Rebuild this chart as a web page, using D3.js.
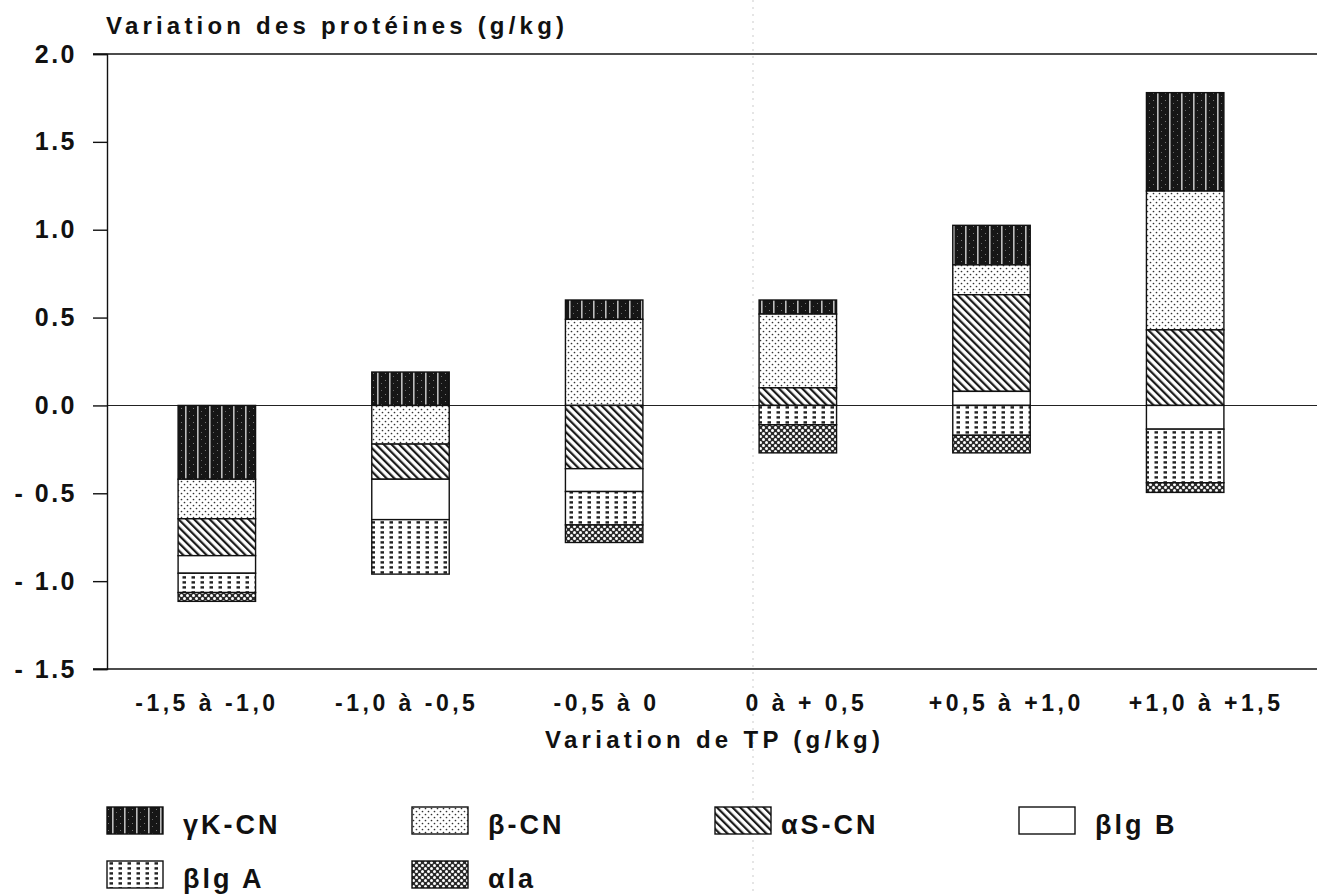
<!DOCTYPE html>
<html>
<head>
<meta charset="utf-8">
<script src="https://cdn.jsdelivr.net/npm/d3@7"></script>
<style>
  html, body { margin: 0; padding: 0; background: #fff; }
  svg { display: block; }
  text { font-family: "Liberation Sans", Arial, sans-serif; fill: #111; }
</style>
</head>
<body>
<svg id="chart" width="1317" height="896"></svg>
<script>
// ---- data ----
const categories = ["-1,5 à -1,0", "-1,0 à -0,5", "-0,5 à 0", "0 à + 0,5", "+0,5 à +1,0", "+1,0 à +1,5"];
const seriesNames = ["γK-CN", "β-CN", "αS-CN", "βlg B", "βlg A", "αla"];
const gammaK  = [-0.42,  0.19,  0.11,  0.08, 0.225,  0.56];
const betaCN  = [-0.225, -0.22,  0.49,  0.42, 0.17,   0.79];
const alphaS  = [-0.21, -0.20, -0.36,  0.10, 0.55,   0.43];
const blgB    = [-0.10, -0.23, -0.13,  0.00, 0.08,  -0.135];
const blgA    = [-0.11, -0.31, -0.19, -0.11, -0.17, -0.305];
const alphaLa = [-0.05,  0.00, -0.10, -0.16, -0.10, -0.055];
const seriesValues = [gammaK, betaCN, alphaS, blgB, blgA, alphaLa];
const yTicks = [2.0, 1.5, 1.0, 0.5, 0.0, -0.5, -1.0, -1.5];
const yTitle = "Variation des protéines (g/kg)";
const xTitle = "Variation de TP (g/kg)";

// ---- setup ----
const svg = d3.select("#chart");
const defs = svg.append("defs");

// patterns
function pat(id, w, h, build, transform) {
  const p = defs.append("pattern").attr("id", id).attr("patternUnits", "userSpaceOnUse")
    .attr("width", w).attr("height", h);
  if (transform) p.attr("patternTransform", transform);
  build(p);
}
pat("pGamma", 12, 7, p => {
  p.append("rect").attr("width", 12).attr("height", 7).attr("fill", "#161616");
  p.append("rect").attr("x", 5).attr("y", 0).attr("width", 1.6).attr("height", 7).attr("fill", "#bdbdbd");
  p.append("rect").attr("x", 1).attr("y", 2).attr("width", 1).attr("height", 1).attr("fill", "#777");
  p.append("rect").attr("x", 9).attr("y", 5).attr("width", 1).attr("height", 1).attr("fill", "#666");
});
pat("pBeta", 6, 6, p => {
  p.append("rect").attr("width", 6).attr("height", 6).attr("fill", "#fff");
  p.append("circle").attr("cx", 1.5).attr("cy", 1.5).attr("r", 0.85).attr("fill", "#333");
  p.append("circle").attr("cx", 4.5).attr("cy", 4.5).attr("r", 0.85).attr("fill", "#333");
});
pat("pAlphaS", 5.5, 10, p => {
  p.append("rect").attr("width", 5.5).attr("height", 10).attr("fill", "#fff");
  p.append("rect").attr("x", 0).attr("y", 0).attr("width", 2.2).attr("height", 10).attr("fill", "#1a1a1a");
}, "rotate(-45)");
pat("pBlgA", 9, 5, p => {
  p.append("rect").attr("width", 9).attr("height", 5).attr("fill", "#fff");
  p.append("rect").attr("x", 2.5).attr("y", 1.2).attr("width", 3.5).attr("height", 2.4).attr("fill", "#222");
});
pat("pAlphaLa", 6, 6, p => {
  p.append("rect").attr("width", 6).attr("height", 6).attr("fill", "#2a2a2a");
  p.append("circle").attr("cx", 1.5).attr("cy", 1.5).attr("r", 1.5).attr("fill", "#fff");
  p.append("circle").attr("cx", 4.5).attr("cy", 4.5).attr("r", 1.5).attr("fill", "#fff");
});
const fills = ["url(#pGamma)", "url(#pBeta)", "url(#pAlphaS)", "#fff", "url(#pBlgA)", "url(#pAlphaLa)"];

// scales
const y = d3.scaleLinear().domain([-1.5, 2.0]).range([669, 54]);
const xBars = d3.scaleBand().domain(categories).range([120, 1282]).paddingInner(0.6).paddingOuter(0.3);
const xLabels = d3.scaleBand().domain(categories).range([107, 1306]);

const axisLeftX = 107, rightEdge = 1317;

// faint scan fold line
svg.append("line").attr("x1", 753).attr("x2", 753).attr("y1", 0).attr("y2", 896)
  .attr("stroke", "#aaa").attr("stroke-width", 1).attr("stroke-dasharray", "2,5").attr("opacity", 0.6);

// horizontal frame lines (top, zero, bottom)
[2.0, -1.5].forEach(v => {
  svg.append("line").attr("x1", axisLeftX - 14).attr("x2", rightEdge)
    .attr("y1", y(v)).attr("y2", y(v)).attr("stroke", "#111").attr("stroke-width", 1.4);
});
svg.append("line").attr("x1", axisLeftX).attr("x2", rightEdge)
  .attr("y1", y(0)).attr("y2", y(0)).attr("stroke", "#222").attr("stroke-width", 1.1);

// stacked segments: top-to-bottom in series order, positives above zero, negatives below
const segments = [];
categories.forEach((c, i) => {
  let posTop = d3.sum(seriesValues, s => Math.max(0, s[i]));
  let negTop = 0;
  seriesValues.forEach((s, k) => {
    const v = s[i];
    if (v === 0) return;
    if (v > 0) { segments.push({c, k, top: posTop, bottom: posTop - v}); posTop -= v; }
    else { segments.push({c, k, top: negTop, bottom: negTop + v}); negTop += v; }
  });
});
svg.append("g").selectAll("rect").data(segments).join("rect")
  .attr("x", d => xBars(d.c))
  .attr("width", xBars.bandwidth())
  .attr("y", d => y(d.top))
  .attr("height", d => y(d.bottom) - y(d.top))
  .attr("fill", d => fills[d.k])
  .attr("stroke", "#111").attr("stroke-width", 1.4);

// y axis
const yAxis = d3.axisLeft(y).tickValues(yTicks).tickSize(14).tickPadding(16)
  .tickFormat(v => v < 0 ? "- " + d3.format(".1f")(-v) : d3.format(".1f")(v));
const gy = svg.append("g").attr("transform", `translate(${axisLeftX},0)`).call(yAxis);
gy.select(".domain").attr("stroke", "#111").attr("stroke-width", 1.4);
gy.selectAll(".tick line").attr("stroke", "#111").attr("stroke-width", 1.4);
gy.selectAll(".tick text").style("font-family", "'Liberation Sans', Arial, sans-serif")
  .style("font-size", "25px").style("font-weight", "bold").style("letter-spacing", "2.5px").attr("fill", "#111");

// x axis labels
const xAxis = d3.axisBottom(xLabels).tickSize(0).tickPadding(26);
const gx = svg.append("g").attr("transform", `translate(0,669)`).call(xAxis);
gx.select(".domain").remove();
gx.selectAll(".tick text").style("font-family", "'Liberation Sans', Arial, sans-serif")
  .style("font-size", "23px").style("font-weight", "bold").style("letter-spacing", "3.5px").attr("fill", "#111");

// titles
svg.append("text").attr("x", 106).attr("y", 34).attr("textLength", 458).attr("lengthAdjust", "spacing")
  .style("font-size", "24px").style("font-weight", "bold").text(yTitle);
svg.append("text").attr("x", 545).attr("y", 748).attr("textLength", 335).attr("lengthAdjust", "spacing")
  .style("font-size", "24px").style("font-weight", "bold").text(xTitle);

// legend
const legendCols = [107, 412, 715, 1019];
const legendRows = [807, 861];
const legendItems = seriesNames.map((n, k) => ({n, k, col: k % 4, row: Math.floor(k / 4)}));
const lg = svg.append("g").selectAll("g").data(legendItems).join("g")
  .attr("transform", d => `translate(${legendCols[d.col]},${legendRows[d.row]})`);
lg.append("rect").attr("width", 56).attr("height", 27)
  .attr("fill", d => fills[d.k]).attr("stroke", "#111").attr("stroke-width", 1.4);
lg.append("text").attr("x", d => d.k === 2 ? 66 : 76).attr("y", 27)
  .style("font-family", "'Liberation Sans Narrow', 'Liberation Sans', Arial, sans-serif")
  .style("font-size", "27px").style("font-weight", "bold").style("letter-spacing", "3px")
  .text(d => d.n);
</script>
</body>
</html>
